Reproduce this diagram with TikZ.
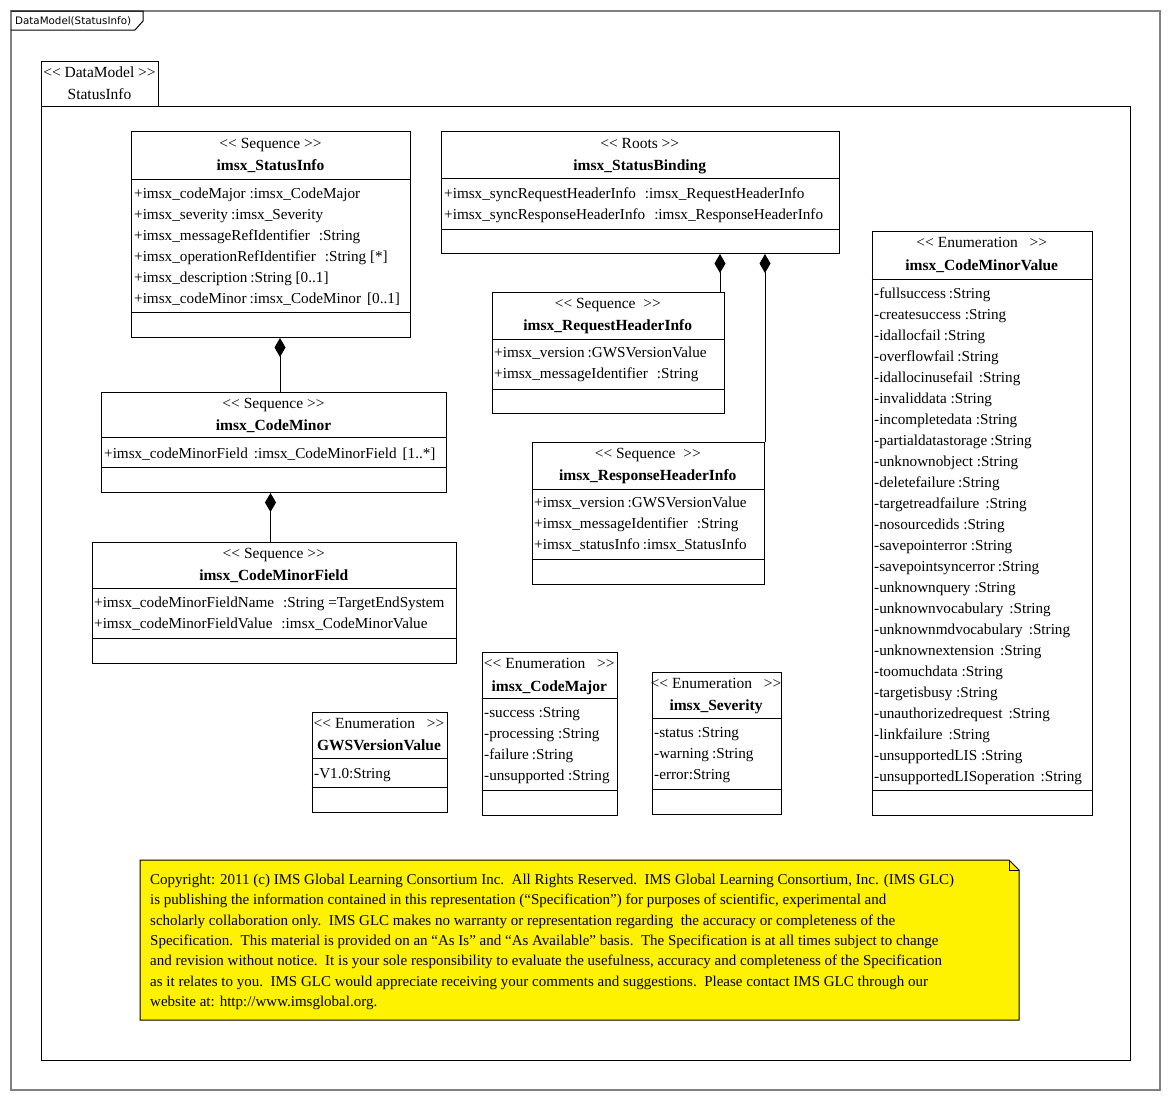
\documentclass[tikz,border=0pt]{standalone}
\usepackage{fontspec}
\setmainfont{Liberation Serif}[Ligatures=TeXOff]
\newfontfamily\tabfont{DejaVu Sans}
\usetikzlibrary{arrows.meta}
\newcommand\sq{\hspace{3pt}}
\newcommand\umlbox[7]{%
  \node[classbox, minimum width={#4pt-#2pt}, minimum height={#5pt-#3pt}] (#1) at (#2,#3) {};
  \draw[sepline] (#2,#6) -- (#4,#6) (#2,#7) -- (#4,#7);
}
\newcommand\umltitle[6]{%
  \node[stereo] (#1-st) at (#2,#3) {#5};
  \node[cname] (#1-nm) at (#2,#4) {#6};
}
\newcommand\umlattrs[4]{%
  \foreach \t [count=\i from 0] in {#4} {
    \node[attr] (#1-a\i) at (#2,{#3+21*\i}) {\t};
  }
}
\begin{document}
\begin{tikzpicture}[x=1pt,y=-1pt,
  classbox/.style={draw=black, line width=1pt, fill=white, inner sep=0pt, anchor=north west},
  sepline/.style={line width=1pt},
  stereo/.style={inner sep=0pt, anchor=base, font=\fontsize{15.5}{18}\selectfont},
  cname/.style={inner sep=0pt, anchor=base, font=\fontsize{15.5}{18}\selectfont\bfseries},
  attr/.style={inner sep=0pt, anchor=base west, font=\fontsize{15.2}{18}\selectfont},
  notetext/.style={inner sep=0pt, anchor=base west, font=\fontsize{15}{18}\selectfont},
  comp/.style={draw=black, line width=1pt, -{Diamond[length=19pt,width=11pt,fill=black]}}
]
\useasboundingbox (0,0) rectangle (1170,1100);
\fill[white] (0,0) rectangle (1170,1100);
% outer frame
\draw[line width=1.5pt, draw=black!50] (11,11) rectangle (1160,1090);
\draw[line width=1pt] (11,11) -- (143,11) -- (143,21) -- (135,30) -- (11,30);
\node[inner sep=0pt, anchor=base west, font=\tabfont\fontsize{10.3}{12}\selectfont] (frametab) at (15,24.5) {DataModel(StatusInfo)};
% package
\draw[line width=1pt] (41,106) rectangle (1130,1060);
\draw[line width=1pt] (41,106) -- (41,61) -- (158,61) -- (158,106);
\node[stereo] (pkg-st) at (99.5,77) {<< DataModel >>};
\node[stereo] (pkg-nm) at (99.5,99.5) {StatusInfo};

% imsx_StatusInfo
\umlbox{si}{131}{131}{410}{337}{179}{312}
\umltitle{si}{270.5}{148.5}{170.5}{<< Sequence >>}{imsx\_StatusInfo}
\umlattrs{si}{134}{198}{{+imsx\_codeMajor :imsx\_CodeMajor},{+imsx\_severity\sq:imsx\_Severity},{+imsx\_messageRefIdentifier\sq\sq\sq:String},{+imsx\_operationRefIdentifier\sq\sq\sq:String [*]},{+imsx\_description\sq:String [0..1]},{+imsx\_codeMinor\sq:imsx\_CodeMinor\sq\sq[0..1]}}

% imsx_StatusBinding
\umlbox{sb}{441}{131}{838.5}{253}{178}{229}
\umltitle{sb}{639.75}{148.5}{170.5}{<< Roots >>}{imsx\_StatusBinding}
\umlattrs{sb}{444}{198}{{+imsx\_syncRequestHeaderInfo\sq\sq\sq:imsx\_RequestHeaderInfo},{+imsx\_syncResponseHeaderInfo\sq\sq\sq:imsx\_ResponseHeaderInfo}}

% imsx_RequestHeaderInfo
\umlbox{rq}{491.5}{291.5}{724}{413}{339}{389}
\umltitle{rq}{607.75}{308.5}{330.5}{<< Sequence\ \ >>}{imsx\_RequestHeaderInfo}
\umlattrs{rq}{494}{357.5}{{+imsx\_version\sq:GWSVersionValue},{+imsx\_messageIdentifier\sq\sq\sq:String}}

% imsx_ResponseHeaderInfo
\umlbox{rs}{531.5}{441.5}{764}{583.5}{489}{559}
\umltitle{rs}{647.75}{458}{480.5}{<< Sequence\ \ >>}{imsx\_ResponseHeaderInfo}
\umlattrs{rs}{534}{507.5}{{+imsx\_version\sq:GWSVersionValue},{+imsx\_messageIdentifier\sq\sq\sq:String},{+imsx\_statusInfo\sq:imsx\_StatusInfo}}

% imsx_CodeMinor
\umlbox{cm}{101}{391.5}{446}{492}{437.5}{467}
\umltitle{cm}{273.5}{408.5}{430.5}{<< Sequence >>}{imsx\_CodeMinor}
\umlattrs{cm}{104}{458}{{+imsx\_codeMinorField\sq\sq:imsx\_CodeMinorField\sq\sq[1..*]}}

% imsx_CodeMinorField
\umlbox{cf}{91.5}{541.5}{456}{662.5}{588.5}{638}
\umltitle{cf}{273.75}{558}{580.5}{<< Sequence >>}{imsx\_CodeMinorField}
\umlattrs{cf}{94}{607.5}{{+imsx\_codeMinorFieldName\sq\sq\sq:String =TargetEndSystem},{+imsx\_codeMinorFieldValue\sq\sq\sq:imsx\_CodeMinorValue}}

% imsx_CodeMinorValue
\umlbox{cv}{871.5}{231}{1092}{815}{279}{790.5}
\umltitle{cv}{981.75}{247.5}{270.5}{<< Enumeration\ \ \ >>}{imsx\_CodeMinorValue}
\umlattrs{cv}{874}{298}{{-fullsuccess\sq:String},{-createsuccess :String},{-idallocfail\sq:String},{-overflowfail\sq:String},{-idallocinusefail\sq\sq:String},{-invaliddata :String},{-incompletedata :String},{-partialdatastorage\sq:String},{-unknownobject :String},{-deletefailure\sq:String},{-targetreadfailure\sq\sq:String},{-nosourcedids :String},{-savepointerror :String},{-savepointsyncerror\sq:String},{-unknownquery :String},{-unknownvocabulary\sq\sq:String},{-unknownmdvocabulary\sq\sq:String},{-unknownextension\sq\sq:String},{-toomuchdata :String},{-targetisbusy :String},{-unauthorizedrequest\sq\sq:String},{-linkfailure\sq\sq:String},{-unsupportedLIS :String},{-unsupportedLISoperation\sq\sq:String}}

% GWSVersionValue
\umlbox{gw}{311.5}{711.5}{446.5}{812}{758}{787}
\umltitle{gw}{379}{728}{750.5}{<< Enumeration\ \ \ >>}{GWSVersionValue}
\umlattrs{gw}{314}{778}{{-V1.0:String}}

% imsx_CodeMajor
\umlbox{mj}{481.5}{651.5}{617}{815}{698}{790}
\umltitle{mj}{549.25}{668.5}{691}{<< Enumeration\ \ \ >>}{imsx\_CodeMajor}
\umlattrs{mj}{484}{717.5}{{-success :String},{-processing :String},{-failure\sq:String},{-unsupported :String}}

% imsx_Severity
\umlbox{sv}{651.5}{671.5}{780.5}{814}{718.5}{789.5}
\umltitle{sv}{716}{688.5}{710.5}{<< Enumeration\ \ \ >>}{imsx\_Severity}
\umlattrs{sv}{654}{737.5}{{-status :String},{-warning\sq:String},{-error:String}}

% compositions
\coordinate (xa) at (280,0);
\coordinate (xb) at (270.5,0);
\coordinate (xc) at (720,0);
\draw[comp] (cm.north -| xa) -- (si.south -| xa);
\draw[comp] (cf.north -| xb) -- (cm.south -| xb);
\draw[comp] (rq.north -| xc) -- (sb.south -| xc);
\draw[comp] (rs.north east) -- (sb.south -| rs.north east);

% note
\filldraw[fill=yellow, draw=black, line width=1pt] (140,860) -- (1009,860) -- (1019,870) -- (1019,1020) -- (140,1020) -- cycle;
\draw[line width=0.8pt] (1009,860) -- (1009,870) -- (1019,870);
\node[notetext] (n1) at (150,884.5) {Copyright: 2011 (c) IMS Global Learning Consortium Inc.\ \ All Rights Reserved.\ \ IMS Global Learning Consortium, Inc. (IMS GLC)};
\node[notetext] (n2) at (150,904.8) {is publishing the information contained in this representation (“Specification”) for purposes of scientific, experimental and};
\node[notetext] (n3) at (150,925.1) {scholarly collaboration only.\ \ IMS GLC makes no warranty or representation regarding\ \ the accuracy or completeness of the};
\node[notetext] (n4) at (150,945.4) {Specification.\ \ This material is provided on an “As Is” and “As Available” basis.\ \ The Specification is at all times subject to change};
\node[notetext] (n5) at (150,965.7) {and revision without notice.\ \ It is your sole responsibility to evaluate the usefulness, accuracy and completeness of the Specification};
\node[notetext] (n6) at (150,986) {as it relates to you.\ \ IMS GLC would appreciate receiving your comments and suggestions.\ \ Please contact IMS GLC through our};
\node[notetext] (n7) at (150,1006.3) {website at: http://www.imsglobal.org.};
\end{tikzpicture}
\end{document}
